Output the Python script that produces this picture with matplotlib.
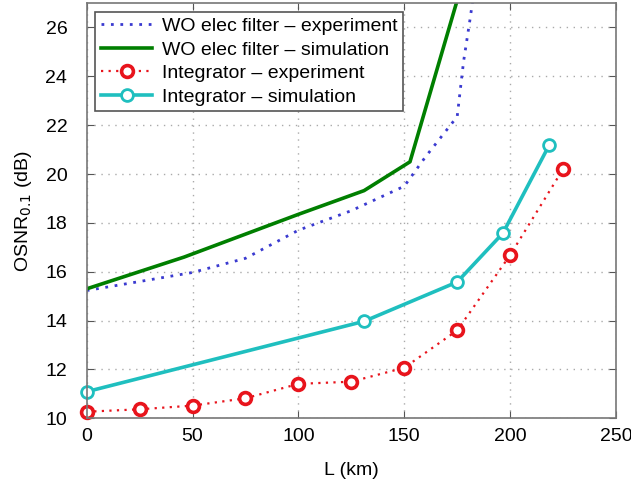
import matplotlib
matplotlib.use('Agg')
import matplotlib.pyplot as plt

# ---- data ----
wo_exp_L = [0, 25, 50, 75, 100, 125, 150, 160, 170, 175, 178, 181, 183]
wo_exp_osnr = [15.23, 15.6, 15.97, 16.55, 17.7, 18.5, 19.5, 20.7, 21.8, 22.35, 24.6, 26.3, 27.5]

wo_sim_L = [0, 46, 100, 131, 152.7, 178]
wo_sim_osnr = [15.3, 16.6, 18.35, 19.32, 20.5, 28.0]

int_exp_L = [0, 25, 50, 75, 100, 125, 150, 175, 200, 225]
int_exp_osnr = [10.27, 10.37, 10.52, 10.82, 11.41, 11.5, 12.07, 13.6, 16.68, 20.2]

int_sim_L = [0, 131, 175, 196.6, 218.5]
int_sim_osnr = [11.09, 13.97, 15.58, 17.58, 21.19]

plt.rcParams['font.family'] = ['Liberation Sans', 'DejaVu Sans']

fig = plt.figure(figsize=(6.31, 4.84), dpi=100)
ax = fig.add_axes([0.1374, 0.1357, 0.9762 - 0.1374, 0.9938 - 0.1357])

ax.plot(wo_exp_L, wo_exp_osnr, color='#3a3ad0', linestyle=(0, (1, 2.4)), linewidth=2,
        label='WO elec filter \u2013 experiment')
ax.plot(wo_sim_L, wo_sim_osnr, color='#007f00', linestyle='-', linewidth=2.6,
        label='WO elec filter \u2013 simulation')
ax.plot(int_exp_L, int_exp_osnr, color='#e8141c', linestyle=(0, (1, 2.4)), linewidth=1.6,
        marker='o', markersize=8.5, markeredgewidth=2.6, markerfacecolor='white',
        markeredgecolor='#e8141c', clip_on=False, label='Integrator \u2013 experiment')
ax.plot(int_sim_L, int_sim_osnr, color='#1fbfbf', linestyle='-', linewidth=2.6,
        marker='o', markersize=8.5, markeredgewidth=2, markerfacecolor='white',
        markeredgecolor='#1fbfbf', clip_on=False, label='Integrator \u2013 simulation')

ax.set_xlim(0, 250)
ax.set_ylim(10, 27)
ax.set_xticks([0, 50, 100, 150, 200, 250])
ax.set_yticks([10, 12, 14, 16, 18, 20, 22, 24, 26])
ax.tick_params(direction='in', top=True, right=True, labelsize=14, length=5,
               color='#555555')
ax.tick_params(axis='y', pad=14)
ax.tick_params(axis='x', pad=7)
ax.grid(True, color='#aaaaaa', linestyle=(0, (1, 4)), linewidth=1)
for s in ax.spines.values():
    s.set_color('#777777')
    s.set_linewidth(1.2)

ax.set_xlabel('L (km)', fontsize=14, labelpad=12)
ax.set_ylabel('OSNR$_{0.1}$ (dB)', fontsize=14, labelpad=8)

leg = ax.legend(loc='upper left', fontsize=14, fancybox=False, framealpha=1,
                edgecolor='#555555', borderaxespad=0.45, handlelength=2.6,
                labelspacing=0.3, borderpad=0.3, handletextpad=0.5)
leg.get_frame().set_linewidth(1.2)

fig.savefig('out.png', dpi=100)
